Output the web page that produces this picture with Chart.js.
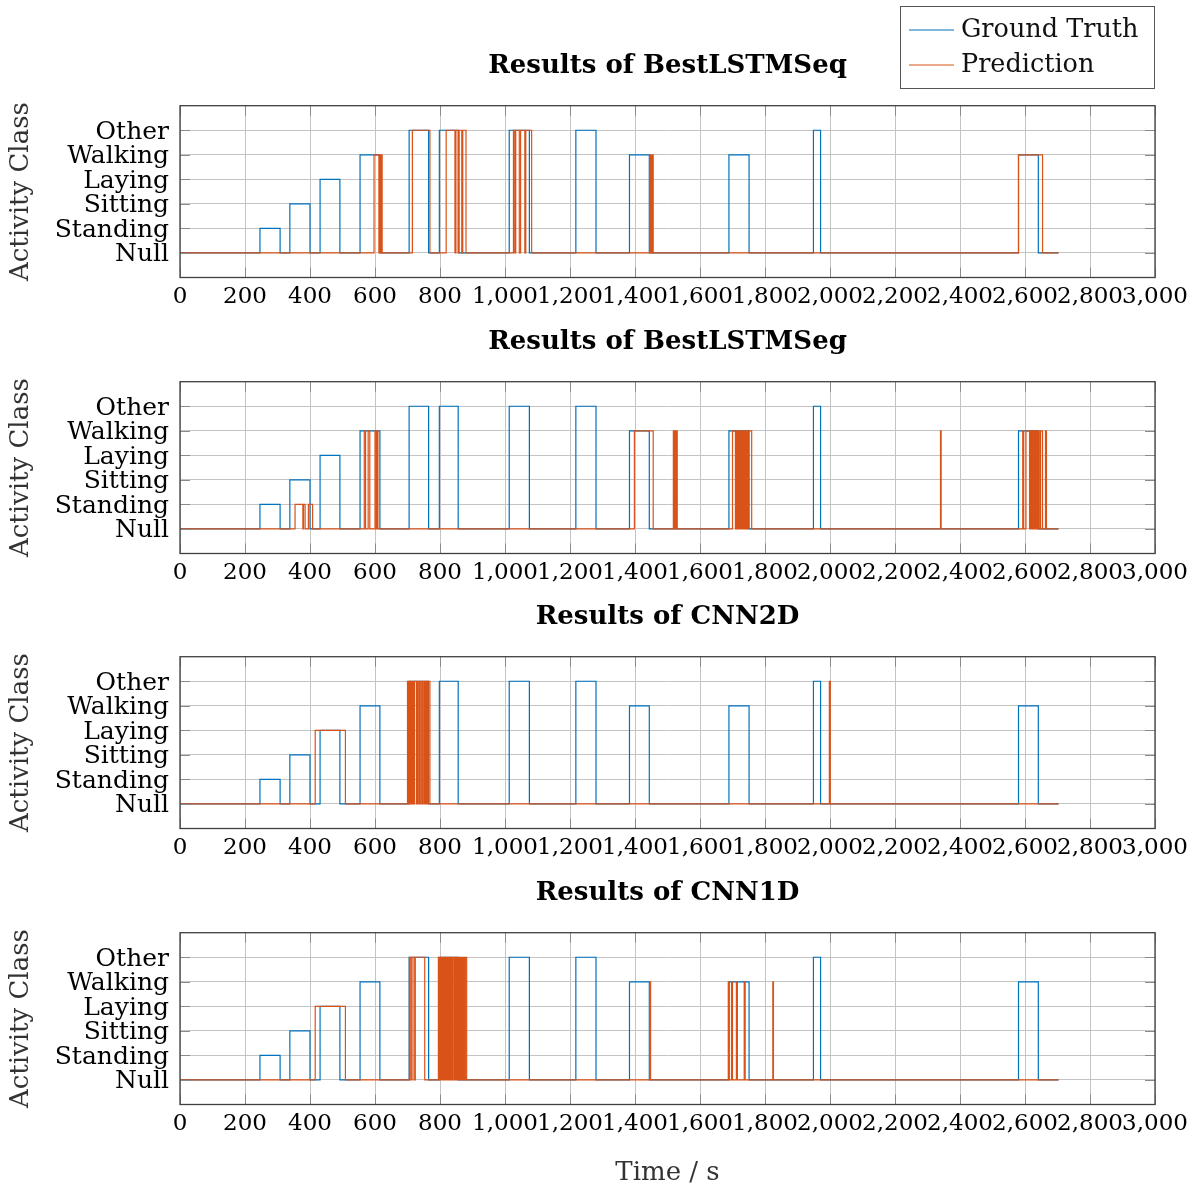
<!DOCTYPE html>
<html>
<head>
<meta charset="utf-8">
<title>Activity recognition results</title>
<script src="https://cdn.jsdelivr.net/npm/chart.js@4.4.1/dist/chart.umd.min.js"></script>
<style>
  body { margin: 0; background: #fff; }
  #wrap { position: relative; width: 1196px; height: 1191px; overflow: hidden; }
  .panel { position: absolute; left: 0; }
</style>
</head>
<body>
<div id="wrap">
  <canvas id="c0" class="panel" width="1196" height="320" style="top:0px"></canvas>
  <canvas id="c1" class="panel" width="1196" height="320" style="top:276px"></canvas>
  <canvas id="c2" class="panel" width="1196" height="320" style="top:551px"></canvas>
  <canvas id="c3" class="panel" width="1196" height="364" style="top:827px"></canvas>
</div>
<script>
// classes on the y axis (index = value)
const classNames = ['Null', 'Standing', 'Sitting', 'Laying', 'Walking', 'Other'];
const classValues = [0, 1, 2, 3, 4, 5];
const endTime = 2703;

const panelTitles = [
  'Results of BestLSTMSeq',
  'Results of BestLSTMSeg',
  'Results of CNN2D',
  'Results of CNN1D'
];

// segments that are not Null: [start, end, class]
const truthSegments = [
  [246, 308, 1], [338, 400, 2], [431, 492, 3], [554, 615, 4],
  [705, 765, 5], [798, 856, 5], [1013, 1075, 5], [1218, 1280, 5],
  [1383, 1444, 4], [1689, 1751, 4], [1949, 1971, 5], [2580, 2641, 4]
];

const lstmSeqSegments = [
  [597, 612, 4], [614, 617, 4], [619, 622, 4],
  [715, 769, 5],
  [819, 846, 5], [849, 857, 5], [859, 867, 5], [870, 880, 5],
  [1026, 1030, 5], [1033, 1044, 5], [1048, 1061, 5], [1064, 1082, 5],
  [1446, 1449, 4], [1451, 1453, 4], [1454, 1456, 4],
  [2580, 2654, 4]
];

const lstmSegSegments = [
  [354, 378, 1], [380, 385, 1], [395, 408, 1],
  [567, 571, 4], [579, 584, 4], [600, 604, 4], [606, 609, 4],
  [1398, 1456, 4],
  [1518, 1520, 4], [1521, 1523, 4], [1524, 1526, 4], [1527, 1530, 4],
  [1700, 1709, 4], [1710, 1712, 4], [1713, 1714, 4], [1715, 1717, 4],
  [1718, 1720, 4], [1721, 1722, 4], [1723, 1725, 4], [1726, 1728, 4],
  [1729, 1731, 4], [1732, 1733, 4], [1734, 1736, 4], [1737, 1739, 4],
  [1740, 1742, 4], [1743, 1745, 4], [1746, 1748, 4], [1749, 1759, 4],
  [2340, 2342, 4],
  [2593, 2596, 4], [2603, 2614, 4], [2615, 2617, 4], [2618, 2620, 4],
  [2621, 2623, 4], [2624, 2626, 4], [2627, 2629, 4], [2630, 2632, 4],
  [2633, 2635, 4], [2636, 2638, 4], [2641, 2644, 4], [2648, 2654, 4],
  [2663, 2666, 4]
];

const cnn2dSegments = [
  [416, 509, 3],
  [700, 702, 5], [703, 705, 5], [706, 708, 5], [709, 711, 5],
  [712, 714, 5], [715, 717, 5], [718, 720, 5],
  [722, 728, 5], [731, 735, 5], [738, 742, 5], [746, 750, 5],
  [753, 756, 5], [759, 761, 5], [764, 769, 5],
  [1998, 2001, 5]
];

const cnn1dSegments = [
  [416, 509, 3],
  [706, 710, 5], [714, 720, 5], [724, 753, 5],
  [795, 797, 5], [798, 800, 5], [801, 803, 5], [804, 806, 5],
  [807, 809, 5], [810, 812, 5], [813, 815, 5], [816, 818, 5],
  [819, 821, 5], [822, 825, 5], [827, 829, 5], [830, 832, 5],
  [833, 835, 5], [836, 838, 5], [839, 843, 5], [845, 847, 5],
  [848, 850, 5], [851, 853, 5], [854, 856, 5], [857, 859, 5],
  [860, 862, 5], [863, 865, 5], [866, 868, 5], [869, 871, 5],
  [872, 874, 5], [875, 877, 5], [878, 882, 5],
  [1445, 1448, 4],
  [1687, 1690, 4], [1697, 1700, 4], [1712, 1715, 4], [1736, 1739, 4],
  [1824, 1826, 4]
];

const predictions = [lstmSeqSegments, lstmSegSegments, cnn2dSegments, cnn1dSegments];

const FONT = "'DejaVu Serif', serif";
const BLUE = '#0072BD';
const ORANGE = '#D95319';
const GRID = '#c4c4c4';
const PLOT_BOTTOM = 277.5;

// segment list -> points for a stepped line
function toSteps(segments) {
  const pts = [{ x: 0, y: 0 }];
  segments.forEach(s => {
    pts.push({ x: s[0], y: s[2] });
    pts.push({ x: s[1], y: 0 });
  });
  pts.push({ x: endTime, y: 0 });
  return pts;
}

// box frame with inward tick marks
const framePlugin = {
  id: 'frame',
  afterDraw(chart) {
    const { ctx, chartArea: a, scales } = chart;
    ctx.save();
    ctx.strokeStyle = '#8a8a8a';
    ctx.lineWidth = 1;
    ctx.beginPath();
    scales.x.ticks.forEach(t => {
      const px = Math.round(scales.x.getPixelForValue(t.value)) + 0.5;
      ctx.moveTo(px, a.top); ctx.lineTo(px, a.top + 10);
      ctx.moveTo(px, a.bottom); ctx.lineTo(px, a.bottom - 10);
    });
    scales.y.ticks.forEach(t => {
      const py = Math.round(scales.y.getPixelForValue(t.value)) + 0.5;
      ctx.moveTo(a.left, py); ctx.lineTo(a.left + 10, py);
      ctx.moveTo(a.right, py); ctx.lineTo(a.right - 10, py);
    });
    ctx.stroke();
    ctx.strokeStyle = '#404040';
    ctx.lineWidth = 1.3;
    ctx.strokeRect(a.left, a.top, a.right - a.left, a.bottom - a.top);
    ctx.restore();
  }
};

// legend box in the top right corner (first panel only)
const legendPlugin = {
  id: 'boxLegend',
  afterDraw(chart) {
    const ctx = chart.ctx;
    ctx.save();
    ctx.fillStyle = '#fff';
    ctx.fillRect(900.5, 6.5, 254, 82);
    ctx.strokeStyle = '#555';
    ctx.lineWidth = 1;
    ctx.strokeRect(900.5, 6.5, 254, 82);
    ctx.font = '25.5px ' + FONT;
    ctx.textBaseline = 'middle';
    ctx.textAlign = 'left';
    chart.data.datasets.forEach((ds, i) => {
      const y = 30 + i * 35;
      ctx.strokeStyle = ds.borderColor;
      ctx.lineWidth = 1.2;
      ctx.beginPath();
      ctx.moveTo(909, y); ctx.lineTo(954, y);
      ctx.stroke();
      ctx.fillStyle = '#111';
      ctx.fillText(ds.label, 961, y + 0.5);
    });
    ctx.restore();
  }
};

function makeChart(k) {
  const canvas = document.getElementById('c' + k);
  const isLast = k === panelTitles.length - 1;
  const plugins = [framePlugin];
  if (k === 0) plugins.push(legendPlugin);

  return new Chart(canvas, {
    type: 'line',
    data: {
      datasets: [{
        label: 'Ground Truth',
        data: toSteps(truthSegments),
        borderColor: BLUE,
        borderWidth: 1.2,
        pointRadius: 0,
        stepped: 'before',
        fill: false,
        order: 2
      }, {
        label: 'Prediction',
        data: toSteps(predictions[k]),
        borderColor: ORANGE,
        borderWidth: 1.2,
        pointRadius: 0,
        stepped: 'before',
        fill: false,
        order: 1
      }]
    },
    options: {
      responsive: false,
      animation: false,
      layout: { padding: { top: 0, left: 0, right: 41, bottom: 0 } },
      plugins: {
        legend: { display: false },
        tooltip: { enabled: false },
        title: {
          display: true,
          text: panelTitles[k],
          fullSize: false,
          color: '#000',
          font: { family: FONT, size: 26, weight: 'bold', lineHeight: 1.2 },
          padding: { top: 51, bottom: 23.5 }
        }
      },
      scales: {
        x: {
          type: 'linear',
          min: 0,
          max: 3000,
          ticks: {
            stepSize: 200,
            autoSkip: false,
            maxRotation: 0,
            minRotation: 0,
            padding: 6,
            color: '#000',
            font: { family: FONT, size: 23, lineHeight: 1.2 },
            callback: v => v.toLocaleString('en-US')
          },
          grid: { color: GRID, lineWidth: 1, drawTicks: false },
          border: { display: false },
          title: {
            display: isLast,
            text: 'Time / s',
            color: '#333',
            font: { family: FONT, size: 26, lineHeight: 1.2 },
            padding: { top: 2, bottom: 2 }
          },
          afterFit: s => { s.height = canvas.height - PLOT_BOTTOM; }
        },
        y: {
          type: 'linear',
          min: -1,
          max: 6,
          afterBuildTicks: s => { s.ticks = classValues.map(v => ({ value: v })); },
          ticks: {
            autoSkip: false,
            padding: 11,
            labelOffset: 2,
            color: '#000',
            font: { family: FONT, size: 25, lineHeight: 1.2 },
            callback: v => classNames[v]
          },
          grid: { color: GRID, lineWidth: 1, drawTicks: false },
          border: { display: false },
          title: {
            display: true,
            text: 'Activity Class',
            color: '#333',
            font: { family: FONT, size: 26, lineHeight: 1.2 },
            padding: { top: 6, bottom: 6 }
          },
          afterFit: s => { s.width = 180; }
        }
      }
    },
    plugins: plugins
  });
}

panelTitles.forEach((t, k) => makeChart(k));
</script>
</body>
</html>
